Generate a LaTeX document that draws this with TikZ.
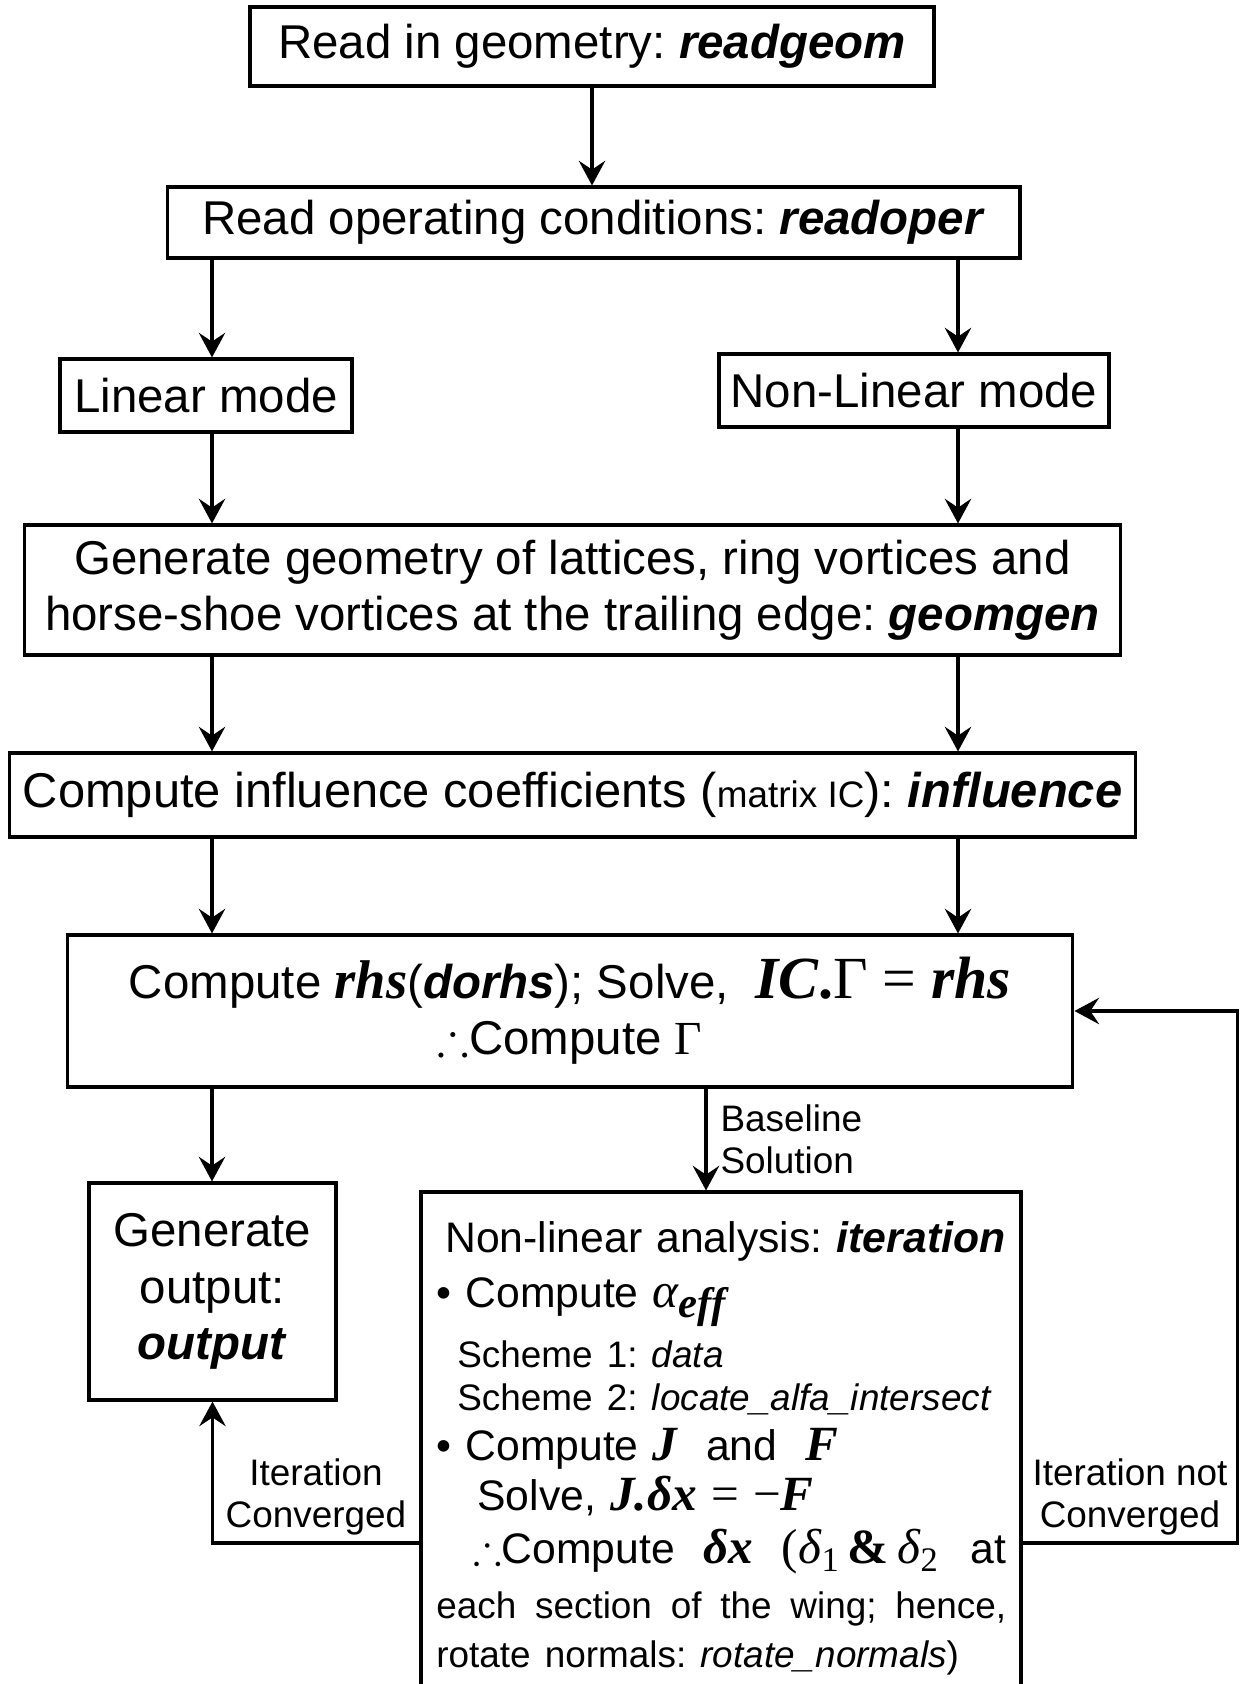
\documentclass[tikz,border=0pt]{standalone}
\usepackage{amssymb}
\usepackage{fontspec}
\setmainfont{Liberation Sans}
\newfontfamily\tms{Liberation Serif}
\usetikzlibrary{arrows.meta, positioning}

\newcommand\prog[1]{\textbf{\textit{#1}}}
\newcommand\svar[1]{{\tms\bfseries\itshape #1}}
\newcommand\mainfs{\fontsize{27}{32}\selectfont}
\newcommand\smallfs{\fontsize{21}{24}\selectfont}
\newcommand\iterfs{\fontsize{24.3}{24.5}\selectfont}
\newcommand\bigfs{\fontsize{28}{24.5}\selectfont}

\begin{document}
\frenchspacing
\begin{tikzpicture}[
			x=0.02cm, y=-0.02cm,
			box/.style={rectangle, draw, line width=1.8pt, align=center, inner sep=0pt, font=\mainfs},
			itxt/.style={align=left, text width=11.4cm, inner sep=0pt, font=\iterfs},
			lbl/.style={font=\smallfs, align=center},
			arrow/.style={-{Stealth[length=14pt, width=15pt, inset=5pt]}, line width=2pt}
			]
			\useasboundingbox (0,0) rectangle (1246,1684);
			\node[box, minimum width=13.68cm, minimum height=1.58cm] (rg) at (592,46.5) {Read in geometry: \prog{readgeom}};
			\node[box, minimum width=17.06cm, minimum height=1.42cm] (ro) at (593.5,222.5) {Read operating conditions: \prog{readoper}};
			\node[box, minimum width=5.84cm, minimum height=1.46cm] (lin) at (206,395.5) {Linear mode};
			\node[box, minimum width=7.8cm, minimum height=1.46cm] (nl) at (914,390.5) {Non-Linear mode};
			\node[box, minimum width=21.94cm, minimum height=2.6cm] (gg) at (572.5,590) {Generate geometry of lattices, ring vortices and\\horse-shoe vortices at the trailing edge: \prog{geomgen}};
			\node[box, minimum width=22.54cm, minimum height=1.68cm, font=\fontsize{27.8}{32}\selectfont] (inf) at (572.5,795) {Compute influence coefficients ({\smallfs matrix IC}): \prog{influence}};
			\node[box, minimum width=20.12cm, minimum height=3.04cm] (cr) at (570,1011) {Compute {\fontsize{31}{32}\selectfont\svar{rhs}}(\prog{dorhs}); Solve,\ \ {\fontsize{34}{32}\selectfont\svar{IC}{\tms\bfseries.}{\tms Γ = }\svar{rhs}}\\$\therefore$Compute {\tms Γ}};
			\node[box, minimum width=4.94cm, minimum height=4.34cm] (out) at (212.5,1291.5) {Generate\\output:\\\prog{output}};
			\node[box, minimum width=12cm, minimum height=10.16cm] (iter) at (721,1446) {};
			\node[itxt, anchor=north west] (itertxt) at (436,1221) {\lineskiplimit=-100pt\relax
				\hspace*{0.18cm}\mbox{Non-linear analysis: \prog{iteration}}\\[6.8pt]
				•\ Compute {\tms\bigfs\itshape α}{\tms\bfseries\itshape\raisebox{-0.5ex}{eff}}\\[9.7pt]
				\hspace*{0.42cm}{\smallfs Scheme 1: \textit{data}}\\
				\hspace*{0.42cm}{\smallfs Scheme 2: \textit{locate\_alfa\_intersect}}\\[4pt]
				•\ Compute \svar{\bigfs J}\ \ and \ \svar{\bigfs F}\\[4pt]
				\hspace*{0.82cm}Solve,\ \svar{\bigfs J.δx} {\tms\bigfs = −}\svar{\bigfs F}\\[5.7pt]
				\hspace*{0.74cm}$\therefore$Compute\ \ \svar{\bigfs δx}\ \ {\tms\bigfs (\textit{δ}\textsubscript{1}\,\textbf{\&}\,\textit{δ}\textsubscript{2}}\hfill at\\[7pt]
				{\smallfs each\hfill section\hfill of\hfill the\hfill wing;\hfill hence,}\\[3pt]
				{\smallfs rotate normals: \textit{rotate\_normals})}};
			
			\coordinate (lcol) at (212,0);
			\coordinate (rcol) at (958,0);
			\coordinate (blcol) at (706,0);
			\coordinate (loopy) at (0,1543);
			
			\draw[arrow] (rg.south) -- (rg.south |- ro.north);
			\draw[arrow] (ro.south -| lcol) -- (lin.north -| lcol);
			\draw[arrow] (ro.south -| rcol) -- (nl.north -| rcol);
			\draw[arrow] (lin.south -| lcol) -- (gg.north -| lcol);
			\draw[arrow] (nl.south -| rcol) -- (gg.north -| rcol);
			\draw[arrow] (gg.south -| lcol) -- (inf.north -| lcol);
			\draw[arrow] (gg.south -| rcol) -- (inf.north -| rcol);
			\draw[arrow] (inf.south -| lcol) -- (cr.north -| lcol);
			\draw[arrow] (inf.south -| rcol) -- (cr.north -| rcol);
			\draw[arrow] (cr.south -| lcol) -- (out.north -| lcol);
			\draw[arrow] (cr.south -| blcol) -- node[right, lbl, xshift=0.14cm, align=left] {Baseline\\Solution} (iter.north -| blcol);
			\draw[arrow] (iter.west |- loopy) -| node[above, lbl, pos=0.25] {Iteration\\Converged} (out.south);
			\draw[arrow] (iter.east |- loopy) -- node[above, lbl] {Iteration not\\Converged} ++(215,0) |- (cr.east);
		\end{tikzpicture}
\end{document}
